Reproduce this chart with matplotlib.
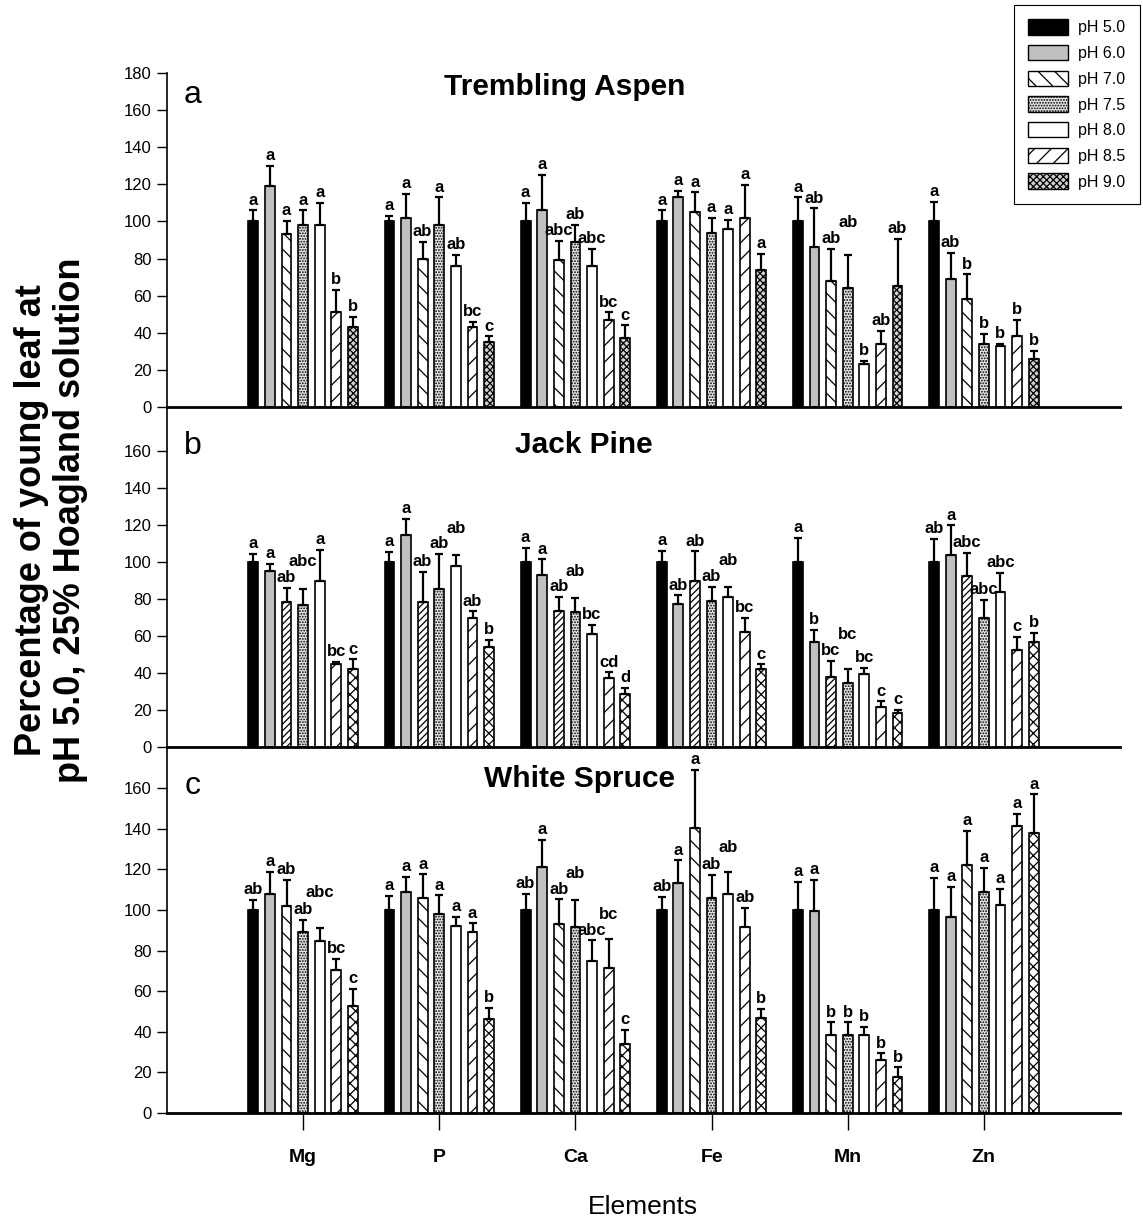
import matplotlib.pyplot as plt
from matplotlib.patches import Patch
import numpy as np

plt.rcParams['font.family'] = ['Liberation Sans', 'DejaVu Sans']
plt.rcParams['hatch.linewidth'] = 0.9

elements = ['Mg', 'P', 'Ca', 'Fe', 'Mn', 'Zn']
ph_levels = ['pH 5.0', 'pH 6.0', 'pH 7.0', 'pH 7.5', 'pH 8.0', 'pH 8.5', 'pH 9.0']

# rows = elements, columns = pH levels
aspen_mean = [
    [100, 119, 93, 98, 98, 51, 43],
    [100, 102, 80, 98, 76, 43, 35],
    [100, 106, 79, 89, 76, 47, 37],
    [100, 113, 105, 94, 96, 102, 74],
    [100, 86, 68, 64, 23, 34, 65],
    [100, 69, 58, 34, 33, 38, 26],
]
aspen_err = [
    [6, 11, 7.5, 8, 12, 12, 5.5],
    [3, 13, 9, 15, 6, 3, 3],
    [10, 19, 10.5, 9, 9, 4, 7],
    [6, 3.6, 10.6, 8, 5, 17.6, 8.6],
    [13, 21, 17, 18, 2, 7, 25.5],
    [10.6, 14, 13.5, 5.4, 1, 9, 4.3],
]
aspen_letters = [
    ['a', 'a', 'a', 'a', 'a', 'b', 'b'],
    ['a', 'a', 'ab', 'a', 'ab', 'bc', 'c'],
    ['a', 'a', 'abc', 'ab', 'abc', 'bc', 'c'],
    ['a', 'a', 'a', 'a', 'a', 'a', 'a'],
    ['a', 'ab', 'ab', 'ab', 'b', 'ab', 'ab'],
    ['a', 'ab', 'b', 'b', 'b', 'b', 'b'],
]

pine_mean = [
    [100, 95, 78.5, 77, 90, 45, 42],
    [100, 114.5, 78.5, 85.5, 98, 69.5, 54],
    [100, 93, 73.5, 73, 61, 37.5, 28.5],
    [100, 77.5, 90, 79, 81, 62, 42],
    [100, 56.5, 38, 34.5, 39.5, 21.5, 18.5],
    [100, 104, 92.5, 70, 84, 52.5, 56.5],
]
pine_err = [
    [4.3, 4, 7.5, 8.6, 16.5, 0.8, 5.4],
    [5.6, 8.8, 16.3, 19, 5.6, 3.8, 4],
    [7.5, 8.4, 7.7, 7.3, 5, 2.8, 3.6],
    [6, 4.5, 15.7, 7.5, 5.4, 8, 2.7],
    [13, 6.8, 8.4, 7.5, 3.2, 3.2, 1.6],
    [12.4, 15.8, 12.5, 9.5, 10.2, 7.2, 5.2],
]
pine_letters = [
    ['a', 'a', 'ab', 'abc', 'a', 'bc', 'c'],
    ['a', 'a', 'ab', 'ab', 'ab', 'ab', 'b'],
    ['a', 'a', 'ab', 'ab', 'bc', 'cd', 'd'],
    ['a', 'ab', 'ab', 'ab', 'ab', 'bc', 'c'],
    ['a', 'b', 'bc', 'bc', 'bc', 'c', 'c'],
    ['ab', 'a', 'abc', 'abc', 'abc', 'c', 'b'],
]

spruce_mean = [
    [100, 108, 102, 89, 84.5, 70.5, 52.5],
    [100, 109, 106, 98, 92, 89, 46.5],
    [100, 121, 93, 91.5, 75, 71.5, 34],
    [100, 113.5, 140.5, 106, 108, 91.5, 47],
    [100, 99.7, 38.5, 38.5, 38.5, 26, 17.5],
    [100, 96.5, 122, 109, 102.5, 141.5, 138],
]
spruce_err = [
    [4.8, 10.8, 13, 6, 6.6, 5.6, 8.8],
    [7, 7.4, 11.5, 9.2, 4.6, 4.4, 5.2],
    [7.9, 13.4, 12.2, 13.3, 10, 14.3, 6.9],
    [6.6, 10.9, 28.5, 11.4, 10.8, 9.5, 4.4],
    [13.9, 15.3, 6.1, 6.1, 4.1, 3.4, 5],
    [15.7, 15, 17, 11.6, 8, 6, 19],
]
spruce_letters = [
    ['ab', 'a', 'ab', 'ab', 'abc', 'bc', 'c'],
    ['a', 'a', 'a', 'a', 'a', 'a', 'b'],
    ['ab', 'a', 'ab', 'ab', 'abc', 'bc', 'c'],
    ['ab', 'a', 'a', 'ab', 'ab', 'ab', 'b'],
    ['a', 'a', 'b', 'b', 'b', 'b', 'b'],
    ['a', 'a', 'a', 'a', 'a', 'a', 'a'],
]

# fill colour and hatch for each pH level, per panel
style_a = [('black', None), ('#c0c0c0', None), ('white', '\\\\'),
           ('#e6e6e6', '......'), ('white', None), ('white', '//'),
           ('#d0d0d0', 'xxxxx')]
style_b = [('black', None), ('#c0c0c0', None), ('white', '/////'),
           ('#e6e6e6', '......'), ('white', None), ('white', '//'),
           ('white', 'xxx')]
style_c = [('black', None), ('#c0c0c0', None), ('white', '\\\\'),
           ('#e6e6e6', '......'), ('white', None), ('white', '//'),
           ('white', 'xxx')]

W, H = 1143, 1224
fig = plt.figure(figsize=(W / 100, H / 100), dpi=100)

left, right = 167, 1120
panels = [
    # top px, bottom px, ymax, last tick, data, tag, tag y px, title, title x/y px
    (73, 407, 180, 180, aspen_mean, aspen_err, aspen_letters, style_a, 'a', 95, 'Trembling Aspen', 565, 87),
    (407, 747, 183.8, 160, pine_mean, pine_err, pine_letters, style_b, 'b', 446, 'Jack Pine', 584, 445),
    (747, 1113, 180.3, 160, spruce_mean, spruce_err, spruce_letters, style_c, 'c', 786, 'White Spruce', 580, 779),
]

x = np.arange(1, len(elements) + 1)
pitch = 0.122
width = 0.072
offsets = (np.arange(7) - 3) * pitch

groups = []  # letter annotations, one list per element group per panel
for i, (top, bot, ymax, tmax, mean, err, letters, style, tag, tag_y, title, tx, ty) in enumerate(panels):
    ax = fig.add_axes([left / W, 1 - bot / H, (right - left) / W, (bot - top) / H])
    mean = np.array(mean)
    err = np.array(err)
    panel_groups = [[] for _ in range(6)]
    for j in range(7):
        fc, hatch = style[j]
        xs = x + offsets[j]
        ax.bar(xs, mean[:, j], width, color=fc, edgecolor='black',
               linewidth=1.2, hatch=hatch, zorder=2)
        ax.errorbar(xs, mean[:, j], yerr=[np.zeros(6), err[:, j]], fmt='none',
                    ecolor='black', elinewidth=1.6, capsize=3.2, capthick=1.6, zorder=3)
        for k in range(6):
            ann = ax.annotate(letters[k][j], (xs[k], mean[k, j] + err[k, j]),
                              xytext=(0, 2), textcoords='offset points',
                              ha='center', va='bottom', fontsize=12, fontweight='bold')
            panel_groups[k].append(ann)
    groups.extend(panel_groups)
    ax.set_xlim(0, 7)
    ax.set_ylim(0, ymax)
    ax.set_yticks(np.arange(0, tmax + 1, 20))
    ax.tick_params(axis='y', direction='out', length=7, width=1, labelsize=12, pad=4)
    ax.spines['top'].set_visible(False)
    ax.spines['right'].set_visible(False)
    ax.spines['left'].set_linewidth(1.2)
    ax.spines['bottom'].set_linewidth(2)
    ax.patch.set_alpha(0)
    ax.set_xticks(x)
    if i < 2:
        ax.tick_params(axis='x', direction='in', length=3, labelbottom=False)
    else:
        ax.set_xticklabels(elements, fontsize=14, fontweight='bold')
        ax.tick_params(axis='x', direction='out', length=12, width=1, pad=14)
    fig.text(193 / W, 1 - tag_y / H, tag, fontsize=23, ha='center', va='center')
    fig.text(tx / W, 1 - ty / H, title, fontsize=21.5, fontweight='bold',
             ha='center', va='center')

# lift a letter a little when it would run into a neighbour's letter
fig.canvas.draw()
renderer = fig.canvas.get_renderer()
for group in groups:
    placed = []
    for ann in group:
        dy = 2
        for _ in range(20):
            bb = ann.get_window_extent(renderer)
            if not any(bb.overlaps(p) for p in placed):
                break
            dy += 2
            ann.xyann = (0, dy)
        placed.append(ann.get_window_extent(renderer))

fig.text(51 / W, 1 - 520 / H, 'Percentage of young leaf at\npH 5.0, 25% Hoagland solution',
         rotation=90, ha='center', va='center', fontsize=26, fontweight='bold', linespacing=1.15)
fig.text(643 / W, 1 - 1207 / H, 'Elements', fontsize=19, ha='center', va='center')

handles = [Patch(facecolor=fc, edgecolor='black', hatch=h, linewidth=1, label=lab)
           for (fc, h), lab in zip(style_a, ph_levels)]
leg = fig.legend(handles=handles, loc='upper right', bbox_to_anchor=(1140 / W, 1 - 5 / H),
                 frameon=True, fancybox=False, edgecolor='black', framealpha=1,
                 fontsize=11.5, handlelength=2.5, handleheight=1.1, labelspacing=0.6,
                 borderpad=0.9, handletextpad=0.65, borderaxespad=0)
leg.get_frame().set_linewidth(0.8)

plt.savefig('out.png', dpi=100)
plt.close()
